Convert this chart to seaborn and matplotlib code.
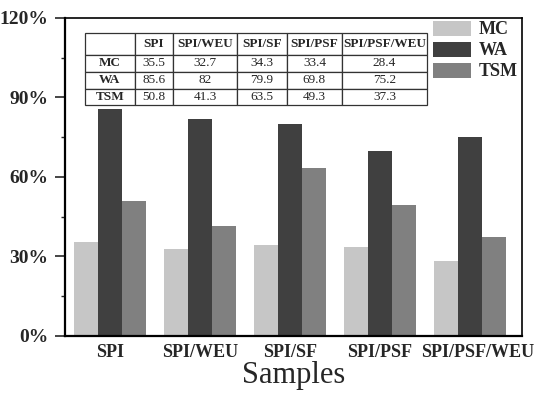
import pandas as pd
import numpy as np
import matplotlib
matplotlib.use("Agg")
import matplotlib.pyplot as plt
import matplotlib.transforms as mtransforms
import seaborn as sns
from matplotlib.ticker import MultipleLocator, FuncFormatter

samples = ["SPI", "SPI/WEU", "SPI/SF", "SPI/PSF", "SPI/PSF/WEU"]
mc = [35.5, 32.7, 34.3, 33.4, 28.4]
wa = [85.6, 82, 79.9, 69.8, 75.2]
tsm = [50.8, 41.3, 63.5, 49.3, 37.3]
series = ["MC", "WA", "TSM"]
colors = ["#c6c6c6", "#404040", "#808080"]

# tableau long pour seaborn
df = pd.DataFrame({"Samples": samples, "MC": mc, "WA": wa, "TSM": tsm})
long = df.melt(id_vars="Samples", var_name="serie", value_name="valeur")

sns.set_style("white")
plt.rcParams["font.family"] = ["Liberation Serif", "DejaVu Serif"]

fig = plt.figure(figsize=(5.5, 3.98), dpi=100)
ax = fig.add_axes([0.118, 0.156, 0.831, 0.799])

sns.barplot(data=long, x="Samples", y="valeur", hue="serie", hue_order=series,
            palette=colors, width=0.8, gap=0, saturation=1, ax=ax, edgecolor="none")

ax.set_ylim(0, 120)
ax.set_xlim(-0.5, 4.58)
ax.yaxis.set_major_locator(MultipleLocator(30))
ax.yaxis.set_minor_locator(MultipleLocator(15))
ax.yaxis.set_major_formatter(FuncFormatter(lambda v, p: f"{v:.0f}%"))
ax.tick_params(axis="y", which="major", direction="out", length=7, width=1.2,
               left=True, labelsize=14, pad=5)
ax.tick_params(axis="y", which="minor", direction="out", length=3, width=1.0, left=True)
ax.tick_params(axis="x", length=0, labelsize=13, pad=6)
for lab in ax.get_yticklabels() + ax.get_xticklabels():
    lab.set_fontweight("bold")
# dernier label légèrement décalé à droite comme dans l'original
last = ax.get_xticklabels()[-1]
last.set_transform(last.get_transform() + mtransforms.ScaledTranslation(0.08, 0, fig.dpi_scale_trans))
ax.set_ylabel("")
ax.set_xlabel("Samples", fontsize=22, labelpad=0)

for s in ax.spines.values():
    s.set_visible(True)
    s.set_color("black")
    s.set_linewidth(1.2)
ax.spines["left"].set_linewidth(1.6)
ax.spines["bottom"].set_linewidth(1.6)

# légende
leg = ax.legend(loc="upper right", frameon=False, fontsize=13, handlelength=2.1,
                handleheight=0.9, handletextpad=0.4, labelspacing=0.18,
                borderaxespad=0.1, bbox_to_anchor=(1.01, 1.02))
for t in leg.get_texts():
    t.set_fontweight("bold")

# tableau des valeurs
cell_text = [[f"{v:g}" for v in mc], [f"{v:g}" for v in wa], [f"{v:g}" for v in tsm]]
table_data = [[""] + samples] + [[name] + row for name, row in zip(series, cell_text)]
x0, x1 = (85 - 65) / 457, (427 - 65) / 457
y0, y1 = (336 - 105) / 318, (336 - 33) / 318
tab = ax.table(cellText=table_data, bbox=[x0, y0, x1 - x0, y1 - y0], cellLoc="center")
tab.auto_set_font_size(False)
tab.set_fontsize(9.5)
widths = [50, 38, 64, 50, 55, 85]
heights = [22, 17, 17, 16]
for (r, c), cell in tab.get_celld().items():
    cell.set_width(widths[c] / sum(widths))
    cell.set_height(heights[r] / sum(heights))
    cell.set_linewidth(0.9)
    cell.set_edgecolor("#333333")
    if r == 0 or c == 0:
        cell.get_text().set_fontweight("bold")

fig.savefig("out.png", dpi=100)
